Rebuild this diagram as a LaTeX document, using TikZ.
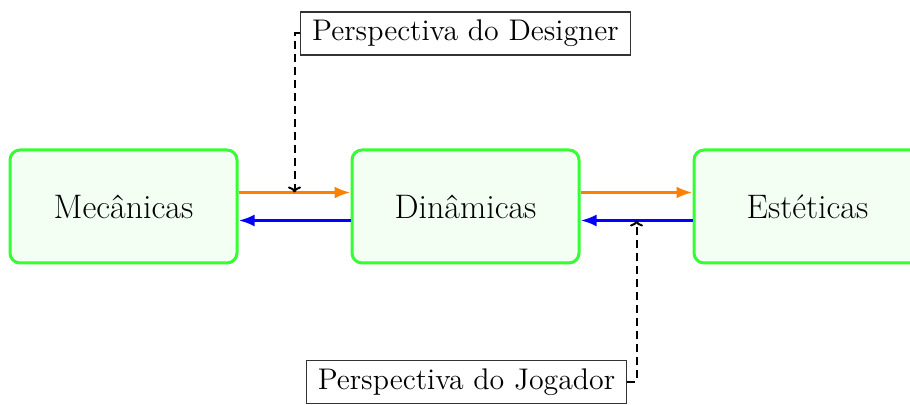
\documentclass[tikz,border=0pt]{standalone}
\usetikzlibrary{arrows.meta}
\begin{document}
\begin{tikzpicture}[x=1pt,y=1pt,
  stage/.style={draw=green!80, line width=1.5pt, fill=green!5, rounded corners=5pt,
    minimum width=113.5pt, minimum height=56.5pt, font=\fontsize{17}{20}\selectfont},
  persp/.style={draw=black!80, line width=0.6pt, fill=white, font=\fontsize{14.93}{18}\selectfont,
    minimum height=21.5pt, inner xsep=5.8pt, inner ysep=3pt},
  flow/.style={line width=1.5pt, -{Latex[length=8pt,width=6pt]}},
  hint/.style={line width=1pt, dash pattern=on 4pt off 2.5pt, -{To[length=3pt,width=6.5pt]}}]
\useasboundingbox (0,0) rectangle (455,202.5);

% the three stages
\node[stage] (mec) at (61.75,99.25) {Mecânicas};
\node[stage] (dyn) at (232.75,99.25) {Dinâmicas};
\node[stage] (aes) at (403.75,99.25) {Estéticas};

% forward (orange) and backward (blue) flows
\draw[flow, orange] ([yshift=7pt]mec.east) -- coordinate[pos=0.5] (fwdA) ([yshift=7pt]dyn.west);
\draw[flow, blue] ([yshift=-7pt]dyn.west) -- ([yshift=-7pt]mec.east);
\draw[flow, orange] ([yshift=7pt]dyn.east) -- ([yshift=7pt]aes.west);
\draw[flow, blue] ([yshift=-7pt]aes.west) -- coordinate[pos=0.5] (backB) ([yshift=-7pt]dyn.east);

% viewpoints
\node[persp] (designer) at (232.75,185.75) {Perspectiva do Designer};
\node[persp] (player) at (233.25,11.3) {Perspectiva do Jogador};

\draw[hint] (designer.west) -| (fwdA);
\draw[hint] (player.east) -| (backB);
\end{tikzpicture}
\end{document}
